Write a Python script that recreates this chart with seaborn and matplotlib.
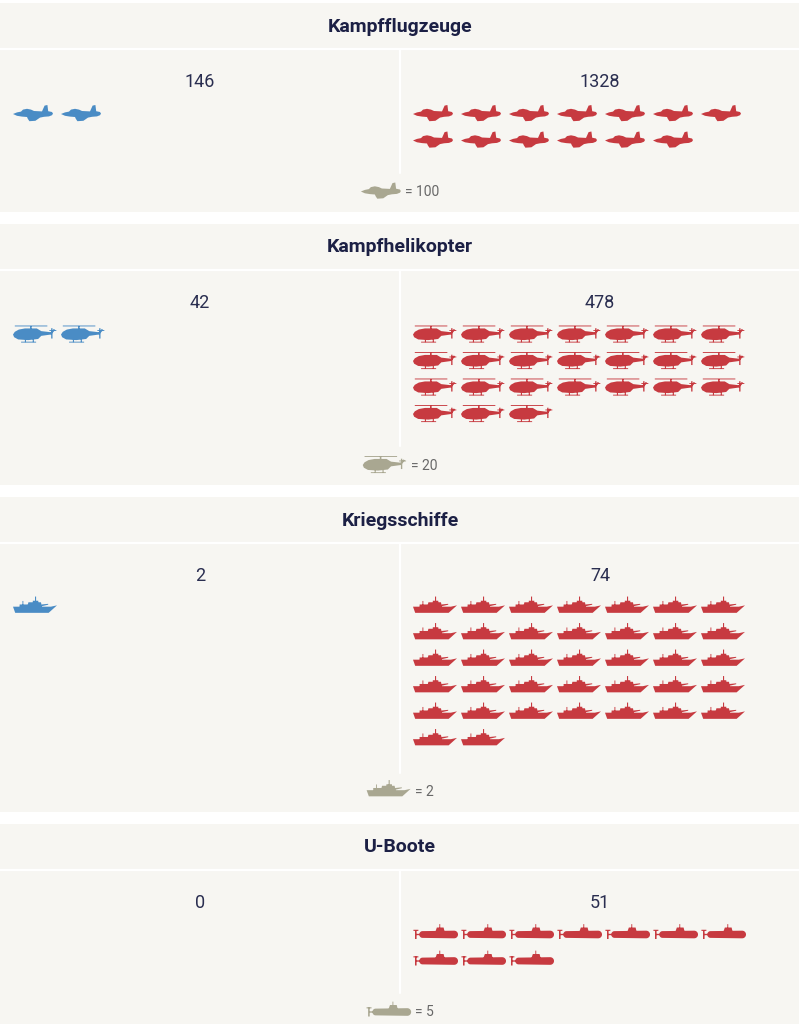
import numpy as np
import pandas as pd
import matplotlib
matplotlib.use("Agg")
import matplotlib.pyplot as plt
import seaborn as sns
from matplotlib.path import Path
from matplotlib.markers import MarkerStyle
from matplotlib.patches import Rectangle

# ---------------- data ----------------
categories = ["Kampfflugzeuge", "Kampfhelikopter", "Kriegsschiffe", "U-Boote"]
ukraine_values = [146, 42, 2, 0]
russia_values = [1328, 478, 74, 51]
unit_values = [100, 20, 2, 5]
ukraine_icons = [2, 2, 1, 0]
russia_icons = [13, 24, 37, 10]
icon_kinds = ["jet", "heli", "ship", "sub"]

# ---------------- style ----------------
sns.set_style("white")
plt.rcParams["font.family"] = ["Roboto", "DejaVu Sans"]

BG = "#f7f6f2"
BLUE = "#4a8cc5"
RED = "#c73a40"
GREY_ICON = "#a9a791"
TITLE_C = "#1c2045"
NUM_C = "#2a2e50"
LEG_C = "#686868"


# ---------------- icon shapes ----------------
def rect(x0, y0, x1, y1):
    return [(x0, y0), (x1, y0), (x1, y1), (x0, y1)]


def compound(polys):
    verts, codes = [], []
    for p in polys:
        p = np.asarray(p, float)
        area = 0.5 * np.sum(p[:, 0] * np.roll(p[:, 1], -1) - np.roll(p[:, 0], -1) * p[:, 1])
        if area < 0:
            p = p[::-1]
        verts.extend(p.tolist())
        verts.append(p[0].tolist())
        codes.extend([Path.MOVETO] + [Path.LINETO] * (len(p) - 1) + [Path.CLOSEPOLY])
    return Path(verts, codes)


jet = compound([[
    (-1.0, 0.0), (-0.8, 0.08), (-0.6, 0.12), (-0.5, 0.22), (-0.3, 0.26),
    (-0.1, 0.22), (0.05, 0.15), (0.45, 0.13), (0.58, 0.42), (0.72, 0.45),
    (0.76, 0.14), (0.95, 0.10), (1.0, 0.02), (0.95, -0.06), (0.8, -0.12),
    (0.55, -0.14), (0.35, -0.18), (0.12, -0.34), (-0.18, -0.36),
    (-0.26, -0.24), (-0.3, -0.15), (-0.55, -0.13), (-0.8, -0.09)]])

heli = compound([
    [(-0.98, 0.0), (-0.9, 0.12), (-0.72, 0.22), (-0.45, 0.27), (0.08, 0.27),
     (0.28, 0.15), (0.72, 0.10), (0.72, 0.0), (0.28, -0.06), (0.14, -0.2),
     (-0.3, -0.25), (-0.75, -0.22), (-0.93, -0.12)],
    rect(-0.9, 0.36, 0.55, 0.40),
    rect(-0.22, 0.25, -0.15, 0.38),
    rect(0.72, -0.18, 0.78, 0.28),
    [(0.66, 0.05), (0.72, 0.0), (0.9, 0.2), (0.84, 0.25)],
    rect(0.64, 0.16, 0.95, 0.20),
    rect(-0.62, -0.36, 0.05, -0.32),
    rect(-0.45, -0.34, -0.40, -0.22),
    rect(-0.10, -0.34, -0.05, -0.20),
])

ship = compound([
    [(-1.0, 0.06), (-0.9, -0.22), (0.62, -0.22), (1.0, 0.12), (0.72, 0.06)],
    rect(-0.7, 0.05, -0.25, 0.16),
    [(-0.35, 0.05), (0.32, 0.05), (0.27, 0.26), (-0.3, 0.26)],
    rect(-0.1, 0.25, 0.15, 0.33),
    rect(0.0, 0.3, 0.05, 0.52),
    [(0.3, 0.08), (0.6, 0.15), (0.6, 0.19), (0.3, 0.16)],
    rect(-0.57, 0.14, -0.53, 0.32),
])

_t = np.linspace(np.pi / 2, -np.pi / 2, 14)
_right = np.c_[0.83 + 0.17 * np.cos(_t), 0.17 * np.sin(_t)]
_t2 = np.linspace(-np.pi / 2, -3 * np.pi / 2, 14)
_left = np.c_[-0.58 + 0.14 * np.cos(_t2), 0.15 * np.sin(_t2)]
_body = np.vstack([[(-0.58, 0.15)], _right, _left])
sub = compound([
    _body,
    [(0.0, 0.14), (0.06, 0.31), (0.36, 0.31), (0.40, 0.14)],
    rect(0.17, 0.30, 0.21, 0.46),
    rect(-0.86, -0.03, -0.68, 0.03),
    rect(-0.91, -0.20, -0.84, 0.20),
    rect(-0.98, 0.16, -0.76, 0.21),
])

icon_paths = {"jet": jet, "heli": heli, "ship": ship, "sub": sub}
icon_width_px = {"jet": 40, "heli": 44, "ship": 44, "sub": 45}

# ---------------- layout ----------------
W, H = 808, 1024
fig = plt.figure(figsize=(W / 100, H / 100), dpi=100)
fig.patch.set_facecolor("white")
ax = fig.add_axes([0, 0, 1, 1])
ax.set_xlim(0, W)
ax.set_ylim(H, 0)
ax.axis("off")
renderer = fig.canvas.get_renderer()

PANEL_R = 799
COLS = 7
PITCH = 48
ROW_H = 26.5
GAP = 12

T = 3.0
for k, cat in enumerate(categories):
    kind = icon_kinds[k]
    marker = MarkerStyle(icon_paths[kind])
    w = icon_width_px[kind]
    s = (w * 0.72) ** 2
    n_rows = max(1, int(np.ceil(max(ukraine_icons[k], russia_icons[k]) / COLS)))

    title_y = T + 24
    sep_y = T + 46
    num_y = T + 79
    first_row = T + 111
    last_row = first_row + (n_rows - 1) * ROW_H
    legend_y = last_row + 51
    bottom = legend_y + 20
    vline_end = last_row + 32

    ax.add_patch(Rectangle((0, T), PANEL_R, bottom - T, facecolor=BG, edgecolor="none", zorder=0))
    ax.plot([0, PANEL_R], [sep_y, sep_y], color="white", lw=1.6, zorder=1)
    ax.plot([400, 400], [sep_y, vline_end], color="white", lw=1.6, zorder=1)

    ax.text(400, title_y, cat, ha="center", va="center", fontsize=14,
            fontweight="bold", color=TITLE_C, zorder=3)
    ax.text(200, num_y, f"{ukraine_values[k]}", ha="center", va="center",
            fontsize=13, color=NUM_C, zorder=3)
    ax.text(600, num_y, f"{russia_values[k]}", ha="center", va="center",
            fontsize=13, color=NUM_C, zorder=3)

    for count, x0, col in [(ukraine_icons[k], 0, BLUE), (russia_icons[k], 400, RED)]:
        if count == 0:
            continue
        idx = np.arange(count)
        df = pd.DataFrame({
            "x": x0 + 13 + w / 2 + (idx % COLS) * PITCH,
            "y": first_row + (idx // COLS) * ROW_H,
        })
        sns.scatterplot(data=df, x="x", y="y", marker=marker, s=s, color=col,
                        linewidth=0, edgecolor="none", legend=False, ax=ax, zorder=2)

    # legend (icon = unit), centred around x=400
    txt = ax.text(0, legend_y + 0.5, f"= {unit_values[k]}", ha="left", va="center",
                  fontsize=10, color=LEG_C, zorder=3)
    tw = txt.get_window_extent(renderer=renderer).width
    gap = 4
    start = 400 - (w + gap + tw) / 2
    txt.set_x(start + w + gap)
    ldf = pd.DataFrame({"x": [start + w / 2], "y": [legend_y]})
    sns.scatterplot(data=ldf, x="x", y="y", marker=marker, s=s, color=GREY_ICON,
                    linewidth=0, edgecolor="none", legend=False, ax=ax, zorder=2)

    T = bottom + GAP

fig.savefig("out.png", dpi=100, facecolor="white")
